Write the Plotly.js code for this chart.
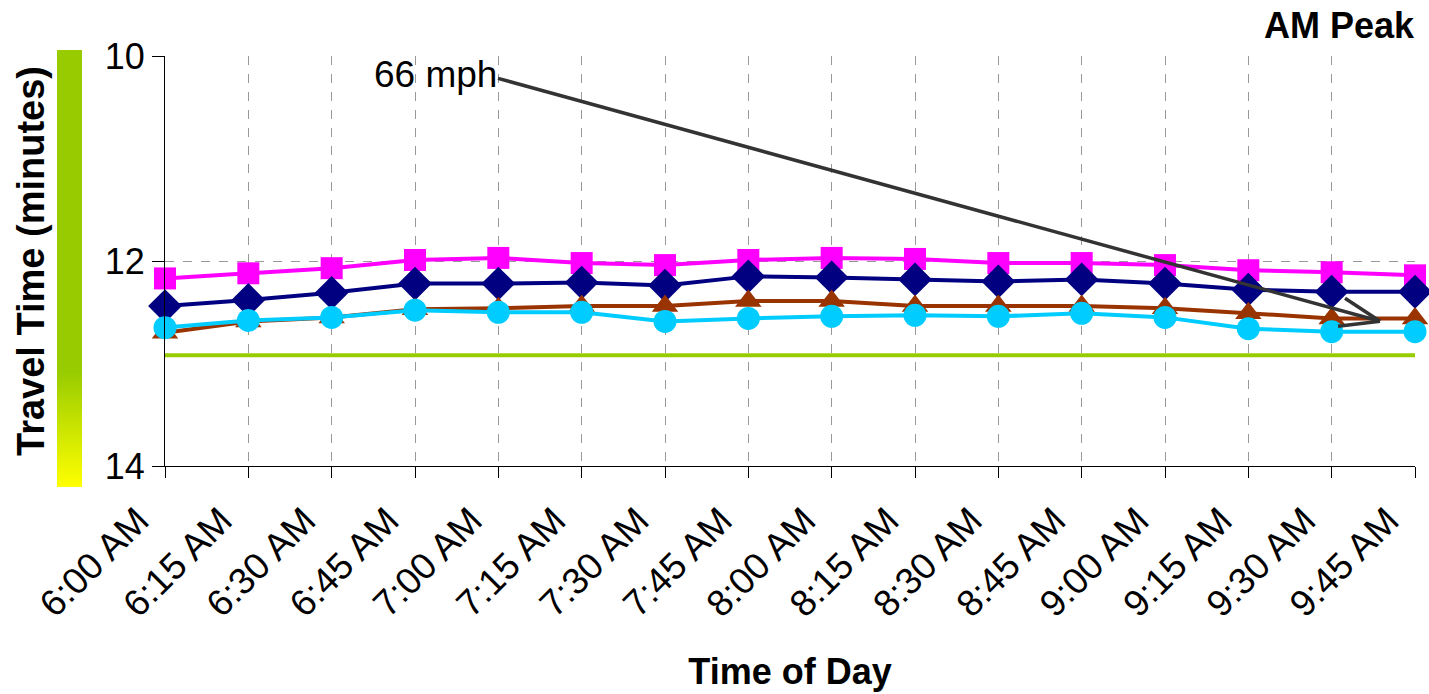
<!DOCTYPE html>
<html>
<head>
<meta charset="utf-8">
<script src="https://cdn.plot.ly/plotly-3.0.1.min.js"></script>
<style>html,body{margin:0;padding:0;background:#fff;}#chart{width:1429px;height:694px;}</style>
</head>
<body>
<div id="chart"></div>
<script>
const times = ['6:00 AM','6:15 AM','6:30 AM','6:45 AM','7:00 AM','7:15 AM','7:30 AM','7:45 AM','8:00 AM','8:15 AM','8:30 AM','8:45 AM','9:00 AM','9:15 AM','9:30 AM','9:45 AM'];
const seriesMagenta = [12.17,12.12,12.07,11.99,11.97,12.02,12.04,11.99,11.97,11.98,12.02,12.02,12.04,12.09,12.11,12.14];
const seriesNavy    = [12.44,12.38,12.31,12.22,12.22,12.21,12.24,12.15,12.16,12.18,12.20,12.18,12.22,12.28,12.30,12.30];
const seriesBrown   = [12.70,12.59,12.55,12.47,12.46,12.44,12.44,12.39,12.39,12.44,12.44,12.44,12.46,12.51,12.56,12.56];
const seriesCyan    = [12.65,12.58,12.55,12.48,12.50,12.50,12.59,12.56,12.54,12.53,12.54,12.51,12.55,12.66,12.69,12.69];
const speedLimit    = [12.92,12.92,12.92,12.92,12.92,12.92,12.92,12.92,12.92,12.92,12.92,12.92,12.92,12.92,12.92,12.92];
const yTicks = [10, 12, 14];
const yTickLabels = ['10', '12', '14'];

const FONT = 'Liberation Sans, Arial, sans-serif';

function series(name, y, color, symbol, size) {
  return {
    type: 'scatter', mode: 'lines+markers', name: name, x: times, y: y,
    line: {color: color, width: 4},
    marker: {color: color, symbol: symbol, size: size, line: {width: 0}},
    hoverinfo: 'x+y', cliponaxis: false
  };
}

const traces = [
  {type: 'scatter', mode: 'lines', name: '66 mph', x: times, y: speedLimit,
   line: {color: '#99CC00', width: 4}},
  series('Series 1', seriesMagenta, '#FF00FF', 'square', 22),
  series('Series 2', seriesNavy, '#000080', 'diamond', 26),
  series('Series 3', seriesBrown, '#993300', 'triangle-up', 23),
  series('Series 4', seriesCyan, '#00CCFF', 'circle', 23)
];

const gradSvg = "<svg xmlns='http://www.w3.org/2000/svg' width='10' height='100' preserveAspectRatio='none'>" +
  "<defs><linearGradient id='g' x1='0' y1='0' x2='0' y2='1'>" +
  "<stop offset='0' stop-color='#99CC00'/><stop offset='0.74' stop-color='#99CC00'/>" +
  "<stop offset='1' stop-color='#FFFF00'/></linearGradient></defs>" +
  "<rect width='10' height='100' fill='url(#g)'/></svg>";

const arrowColor = '#333333';

const layout = {
  width: 1429, height: 694,
  margin: {l: 165, r: 14, t: 56, b: 228},
  paper_bgcolor: '#ffffff', plot_bgcolor: '#ffffff',
  showlegend: false,
  font: {family: FONT, size: 36, color: '#000'},
  xaxis: {
    type: 'category',
    range: [0, 15],
    tickangle: -45,
    tickfont: {family: FONT, size: 37, color: '#000'},
    ticklabelshift: -27, ticklabelstandoff: 6,
    ticks: 'outside', ticklen: 11, tickcolor: '#000', tickwidth: 1,
    showline: true, linecolor: '#000', linewidth: 1, mirror: false,
    showgrid: true, gridcolor: '#999999', griddash: 'dash', gridwidth: 1,
    zeroline: false,
    title: {text: '<b>Time of Day</b>', font: {family: FONT, size: 36, color: '#000'}, standoff: 35},
    automargin: false
  },
  yaxis: {
    range: [14, 10],
    tickvals: yTicks, ticktext: yTickLabels,
    tickfont: {family: FONT, size: 36, color: '#000'},
    ticks: 'outside', ticklen: 12, tickcolor: '#000', tickwidth: 1,
    showline: true, linecolor: '#000', linewidth: 1, mirror: false,
    showgrid: true, gridcolor: '#999999', griddash: 'dash', gridwidth: 1,
    zeroline: false,
    title: {text: '<b>Travel Time (minutes)</b>', font: {family: FONT, size: 38, color: '#000'}, standoff: 48},
    automargin: false
  },
  images: [{
    source: 'data:image/svg+xml;charset=utf-8,' + encodeURIComponent(gradSvg),
    xref: 'paper', yref: 'paper',
    x: -0.0864, y: 1.0146, sizex: 0.0200, sizey: 1.0656,
    xanchor: 'left', yanchor: 'top', sizing: 'stretch', layer: 'above'
  }],
  shapes: [
    {type: 'line', xref: 'x', yref: 'y', x0: 3.996, y0: 10.218, x1: 14.58, y1: 12.588,
     line: {color: arrowColor, width: 3.5}},
    {type: 'line', xref: 'x', yref: 'y', x0: 14.16, y0: 12.364, x1: 14.58, y1: 12.588,
     line: {color: arrowColor, width: 3.5}},
    {type: 'line', xref: 'x', yref: 'y', x0: 14.076, y0: 12.637, x1: 14.58, y1: 12.588,
     line: {color: arrowColor, width: 3.5}}
  ],
  annotations: [
    {text: '66 mph', xref: 'x', yref: 'y', x: 3.246, y: 10.178, showarrow: false,
     xanchor: 'center', yanchor: 'middle', font: {family: FONT, size: 37, color: '#000'}},
    {text: '<b>AM Peak</b>', xref: 'paper', yref: 'paper', x: 1.0016, y: 1.0756, showarrow: false,
     xanchor: 'right', yanchor: 'middle', font: {family: FONT, size: 36, color: '#000'}}
  ]
};

Plotly.newPlot('chart', traces, layout, {displayModeBar: false, staticPlot: true});
</script>
</body>
</html>
